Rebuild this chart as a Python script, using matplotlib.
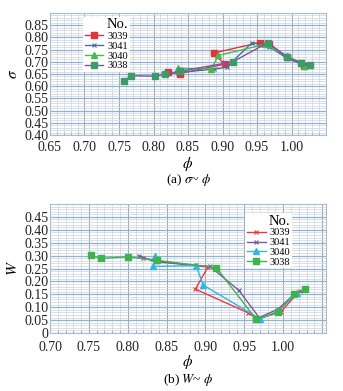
import matplotlib
matplotlib.use("Agg")
import matplotlib.pyplot as plt
from matplotlib.ticker import MultipleLocator

plt.rcParams["font.family"] = ["Liberation Serif", "DejaVu Serif"]
plt.rcParams["mathtext.fontset"] = "stix"

#####################################
# Data
#####################################

series_names = ["3039", "3041", "3040", "3038"]

# (a) sigma ~ phi
phi_a_3039 = [0.821, 0.838, 0.903, 0.887, 0.954, 0.967, 0.994, 1.018]
sig_a_3039 = [0.659, 0.652, 0.690, 0.736, 0.779, 0.772, 0.721, 0.683]
phi_a_3041 = [0.814, 0.836, 0.888, 0.906, 0.943, 0.968, 0.993, 1.014, 1.027]
sig_a_3041 = [0.649, 0.656, 0.670, 0.678, 0.779, 0.762, 0.715, 0.692, 0.687]
phi_a_3040 = [0.835, 0.884, 0.894, 0.962, 0.993, 1.015, 1.018]
sig_a_3040 = [0.673, 0.671, 0.726, 0.772, 0.723, 0.696, 0.682]
phi_a_3038 = [0.757, 0.768, 0.802, 0.817, 0.838, 0.915, 0.966, 0.993, 1.014, 1.027]
sig_a_3038 = [0.620, 0.643, 0.641, 0.650, 0.661, 0.700, 0.779, 0.720, 0.694, 0.687]

# (b) W ~ phi
phi_b_3039 = [0.820, 0.838, 0.903, 0.887, 0.955, 0.967, 0.997, 1.021]
w_b_3039 = [0.290, 0.279, 0.255, 0.170, 0.078, 0.054, 0.082, 0.163]
phi_b_3041 = [0.814, 0.835, 0.888, 0.906, 0.943, 0.969, 0.993, 1.015, 1.029]
w_b_3041 = [0.300, 0.276, 0.262, 0.258, 0.165, 0.060, 0.092, 0.152, 0.168]
phi_b_3040 = [0.835, 0.833, 0.888, 0.897, 0.970, 0.993, 1.018]
w_b_3040 = [0.298, 0.258, 0.261, 0.186, 0.055, 0.084, 0.155]
phi_b_3038 = [0.753, 0.765, 0.800, 0.837, 0.914, 0.965, 0.993, 1.014, 1.028]
w_b_3038 = [0.301, 0.289, 0.295, 0.282, 0.253, 0.054, 0.080, 0.153, 0.170]

#####################################
# Figure
#####################################

W_PX, H_PX = 343, 391
fig = plt.figure(figsize=(W_PX / 100, H_PX / 100), dpi=100)


def px_axes(left, top, right, bottom):
    return fig.add_axes([left / W_PX, 1 - bottom / H_PX,
                         (right - left) / W_PX, (bottom - top) / H_PX])


def style_axes(ax, xlim, ylim, xpad):
    ax.set_xlim(*xlim)
    ax.set_ylim(*ylim)
    ax.xaxis.set_major_locator(MultipleLocator(0.05))
    ax.xaxis.set_minor_locator(MultipleLocator(0.01))
    ax.yaxis.set_major_locator(MultipleLocator(0.05))
    ax.yaxis.set_minor_locator(MultipleLocator(0.01))
    ax.grid(True, which="minor", axis="both", color="#c9d3df", lw=0.5)
    ax.grid(True, which="major", axis="x", color="#9a9fa6", lw=0.7)
    ax.grid(True, which="major", axis="y", color="#8fb1d6", lw=0.9)
    ax.set_axisbelow(True)
    for s in ax.spines.values():
        s.set_color("#a9bcd2")
        s.set_linewidth(0.8)
    ax.tick_params(which="both", length=0, labelsize=10, colors="#222222")
    ax.tick_params(axis="y", pad=1)
    ax.tick_params(axis="x", pad=xpad)
    ax.tick_params(which="minor", axis="x", direction="in", length=2, color="#9a9fa6")


def add_legend(ax, anchor, loc):
    leg = ax.legend(loc=loc, bbox_to_anchor=anchor, title="No.", fontsize=7.5,
                    title_fontsize=10.5, frameon=True, framealpha=1, edgecolor="none",
                    fancybox=False, handlelength=1.8, handletextpad=0.4,
                    labelspacing=0.05, borderpad=0.15, borderaxespad=0)
    leg._legend_box.align = "right"
    return leg


# ---- (a)
ax1 = px_axes(50, 13, 326, 135)
style_axes(ax1, (0.65, 1.05), (0.40, 0.90), 4.5)
ax1.set_yticks([0.40 + 0.05 * i for i in range(10)])
ax1.yaxis.set_major_formatter(plt.FuncFormatter(lambda v, p: f"{v:.2f}"))
ax1.xaxis.set_major_formatter(plt.FuncFormatter(lambda v, p: f"{v:.2f}" if v < 1.04 else ""))

ax1.plot(phi_a_3039, sig_a_3039, color="#e5323b", marker="s", ms=3.8, lw=1.0, label=series_names[0])
ax1.plot(phi_a_3041, sig_a_3041, color="#4a6e9e", marker="x", ms=3, mew=0.8, lw=1.0, label=series_names[1])
ax1.plot(phi_a_3040, sig_a_3040, color="#4cb84c", marker="^", ms=3.8, lw=1.0, label=series_names[2])
ax1.plot(phi_a_3038, sig_a_3038, color="#7a55a5", marker="s", ms=3.8, mfc="#3f9a6a", mec="#3f9a6a",
         lw=1.0, label=series_names[3])
ax1.set_ylabel(r"$\sigma$", fontsize=11, labelpad=3)
ax1.set_xlabel(r"$\phi$", fontsize=11, va="center")
ax1.xaxis.set_label_coords(0.5, -(163.5 - 135) / 122)
add_legend(ax1, (0.12, 0.97), "upper left")
fig.text(0.5 * (50 + 326) / W_PX, 1 - 180 / H_PX, r"(a) $\sigma$~ $\phi$", ha="center",
         va="center", fontsize=9.5)

# ---- (b)
ax2 = px_axes(50, 204, 326, 333)
style_axes(ax2, (0.70, 1.055), (0.0, 0.50), 6)
ax2.set_yticks([0.05 * i for i in range(10)])
ax2.yaxis.set_major_formatter(plt.FuncFormatter(lambda v, p: "0" if abs(v) < 1e-9 else f"{v:.2f}"))
ax2.xaxis.set_major_formatter(plt.FuncFormatter(lambda v, p: f"{v:.2f}" if v < 1.04 else ""))

ax2.plot(phi_b_3039, w_b_3039, color="#f0383c", marker="x", ms=3, mew=0.8, lw=1.0, label=series_names[0])
ax2.plot(phi_b_3041, w_b_3041, color="#7a55a5", marker="x", ms=3, mew=0.8, lw=1.0, label=series_names[1])
ax2.plot(phi_b_3040, w_b_3040, color="#36b4e6", marker="^", ms=3.8, lw=1.0, label=series_names[2])
ax2.plot(phi_b_3038, w_b_3038, color="#3cb44b", marker="s", ms=3.8, lw=1.0, label=series_names[3])
ax2.set_ylabel(r"$W$", fontsize=11, labelpad=3)
ax2.set_xlabel(r"$\phi$", fontsize=11, va="center")
ax2.xaxis.set_label_coords(0.5, -(362 - 333) / 129)
add_legend(ax2, (0.877, 0.93), "upper right")
fig.text(0.5 * (50 + 326) / W_PX, 1 - 380 / H_PX, r"(b) $W$~ $\phi$", ha="center",
         va="center", fontsize=9.5)

fig.savefig("out.png", dpi=100, facecolor="white")
